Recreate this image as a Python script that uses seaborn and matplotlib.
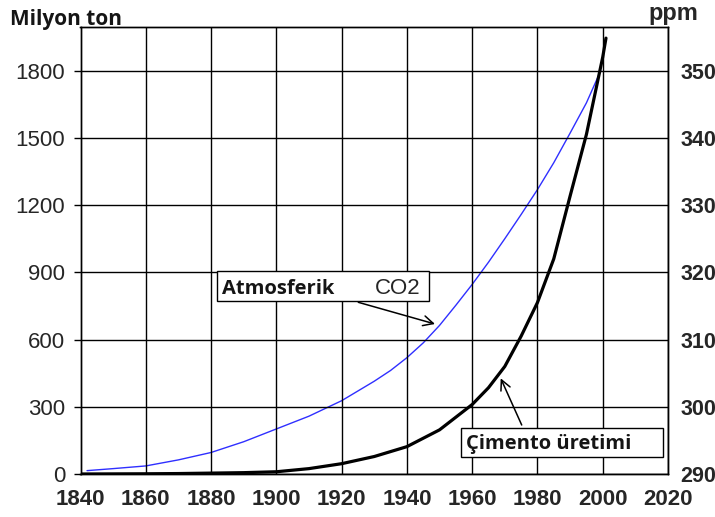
import matplotlib
matplotlib.use("Agg")
import matplotlib.pyplot as plt
from matplotlib.patches import Rectangle
import seaborn as sns
import pandas as pd

# Cement production (million tonnes)
years_cement = [1840, 1850, 1860, 1870, 1880, 1890, 1900, 1910, 1920, 1930, 1940, 1950,
                1960, 1965, 1970, 1975, 1980, 1985, 1990, 1995, 2000, 2001]
cement_mt = [0, 0.5, 1, 2, 4, 6, 10, 24, 46, 78, 122, 197,
             310, 385, 480, 615, 765, 960, 1240, 1515, 1860, 1945]

# Atmospheric CO2 (ppm)
years_co2 = [1842, 1850, 1860, 1870, 1880, 1890, 1900, 1910, 1920, 1930, 1935, 1940, 1945,
             1950, 1955, 1960, 1965, 1970, 1975, 1980, 1985, 1990, 1995, 1999.4]
co2_ppm = [290.5, 290.8, 291.2, 292.1, 293.2, 294.8, 296.7, 298.6, 300.9, 303.8, 305.4, 307.3, 309.5,
           312.1, 315.1, 318.2, 321.5, 325.0, 328.6, 332.3, 336.3, 340.7, 345.2, 350.0]

x_ticks = [1840, 1860, 1880, 1900, 1920, 1940, 1960, 1980, 2000, 2020]
left_ticks = [0, 300, 600, 900, 1200, 1500, 1800]
right_ticks = [290, 300, 310, 320, 330, 340, 350]

sns.set_theme(style="white")
plt.rcParams['font.family'] = ['Liberation Sans', 'DejaVu Sans']

W, H = 715, 517
def fx(x):
    return x / W
def fy(y):
    return 1 - y / H

df_c = pd.DataFrame({"year": years_cement, "value": cement_mt})
df_g = pd.DataFrame({"year": years_co2, "value": co2_ppm})

fig = plt.figure(figsize=(7.15, 5.17), dpi=100)
fig.patch.set_facecolor("white")
ax1 = fig.add_axes([fx(80.5), fy(474), (668 - 80.5) / W, (474 - 26.7) / H])
ax2 = ax1.twinx()
ax2.set_zorder(ax1.get_zorder() - 1)
ax1.patch.set_visible(False)
ax2.patch.set_facecolor("white")

sns.lineplot(data=df_g, x="year", y="value", ax=ax2, color="#2f2fff", linewidth=1.0)
sns.lineplot(data=df_c, x="year", y="value", ax=ax1, color="black", linewidth=2.3)

ax1.set_xlim(1840, 2020)
ax1.set_ylim(0, 1996)
ax2.set_ylim(290, 290 + 1996 / 30)

ax1.set_xticks(x_ticks)
ax1.set_xticklabels([str(t) for t in x_ticks], fontsize=16, fontweight="bold")
ax1.set_yticks(left_ticks)
ax1.set_yticklabels([str(t) for t in left_ticks], fontsize=16)
ax2.set_yticks(right_ticks)
ax2.set_yticklabels([str(t) for t in right_ticks], fontsize=15.5, fontweight="bold")

ax1.grid(True, color="black", linewidth=1.0)
ax1.tick_params(axis="y", which="major", length=5, width=1, color="black", pad=6,
                direction="out", left=True)
ax1.tick_params(axis="x", length=0, pad=11)
ax2.tick_params(axis="y", length=0, pad=9)
for ax in (ax1, ax2):
    ax.set_xlabel("")
    ax.set_ylabel("")
    for s in ax.spines.values():
        s.set_color("black")
        s.set_linewidth(1.0)

fig.text(fx(10), fy(25), "Milyon ton", fontsize=15, fontweight="bold",
         family=["Open Sans", "DejaVu Sans"], color="#151515", va="baseline", ha="left")
fig.text(fx(698), fy(20), "ppm", fontsize=17, fontweight="bold", va="baseline", ha="right")

# annotation boxes
for (x0, y0, x1, y1) in [(217.3, 270.7, 429.3, 300.7), (460.7, 427.7, 662.7, 456.7)]:
    fig.patches.append(Rectangle((fx(x0), fy(y1)), (x1 - x0) / W, (y1 - y0) / H,
                                 transform=fig.transFigure, facecolor="white",
                                 edgecolor="black", linewidth=1.0, zorder=2))

fig.text(fx(222), fy(294.3), "Atmosferik", fontsize=14.5, fontweight="bold",
         family=["Open Sans", "DejaVu Sans"], color="#151515", va="baseline", ha="left", zorder=4)
fig.text(fx(420.5), fy(294.3), "CO2", fontsize=16, va="baseline", ha="right", zorder=4)
fig.text(fx(466), fy(449.3), "Çimento üretimi", fontsize=14.5, fontweight="bold",
         family=["Open Sans", "DejaVu Sans"], color="#151515", va="baseline", ha="left", zorder=4)

arrow = dict(arrowstyle="->,head_length=0.6,head_width=0.3", color="black", lw=1.1,
             shrinkA=0, shrinkB=0)
fig.add_artist(matplotlib.text.Annotation("", xy=(fx(435), fy(324)), xytext=(fx(358.3), fy(302.3)),
                                          xycoords="figure fraction", textcoords="figure fraction",
                                          arrowprops=arrow))
fig.add_artist(matplotlib.text.Annotation("", xy=(fx(500.7), fy(378.3)), xytext=(fx(521.7), fy(425)),
                                          xycoords="figure fraction", textcoords="figure fraction",
                                          arrowprops=arrow))

fig.savefig("out.png", dpi=100)
